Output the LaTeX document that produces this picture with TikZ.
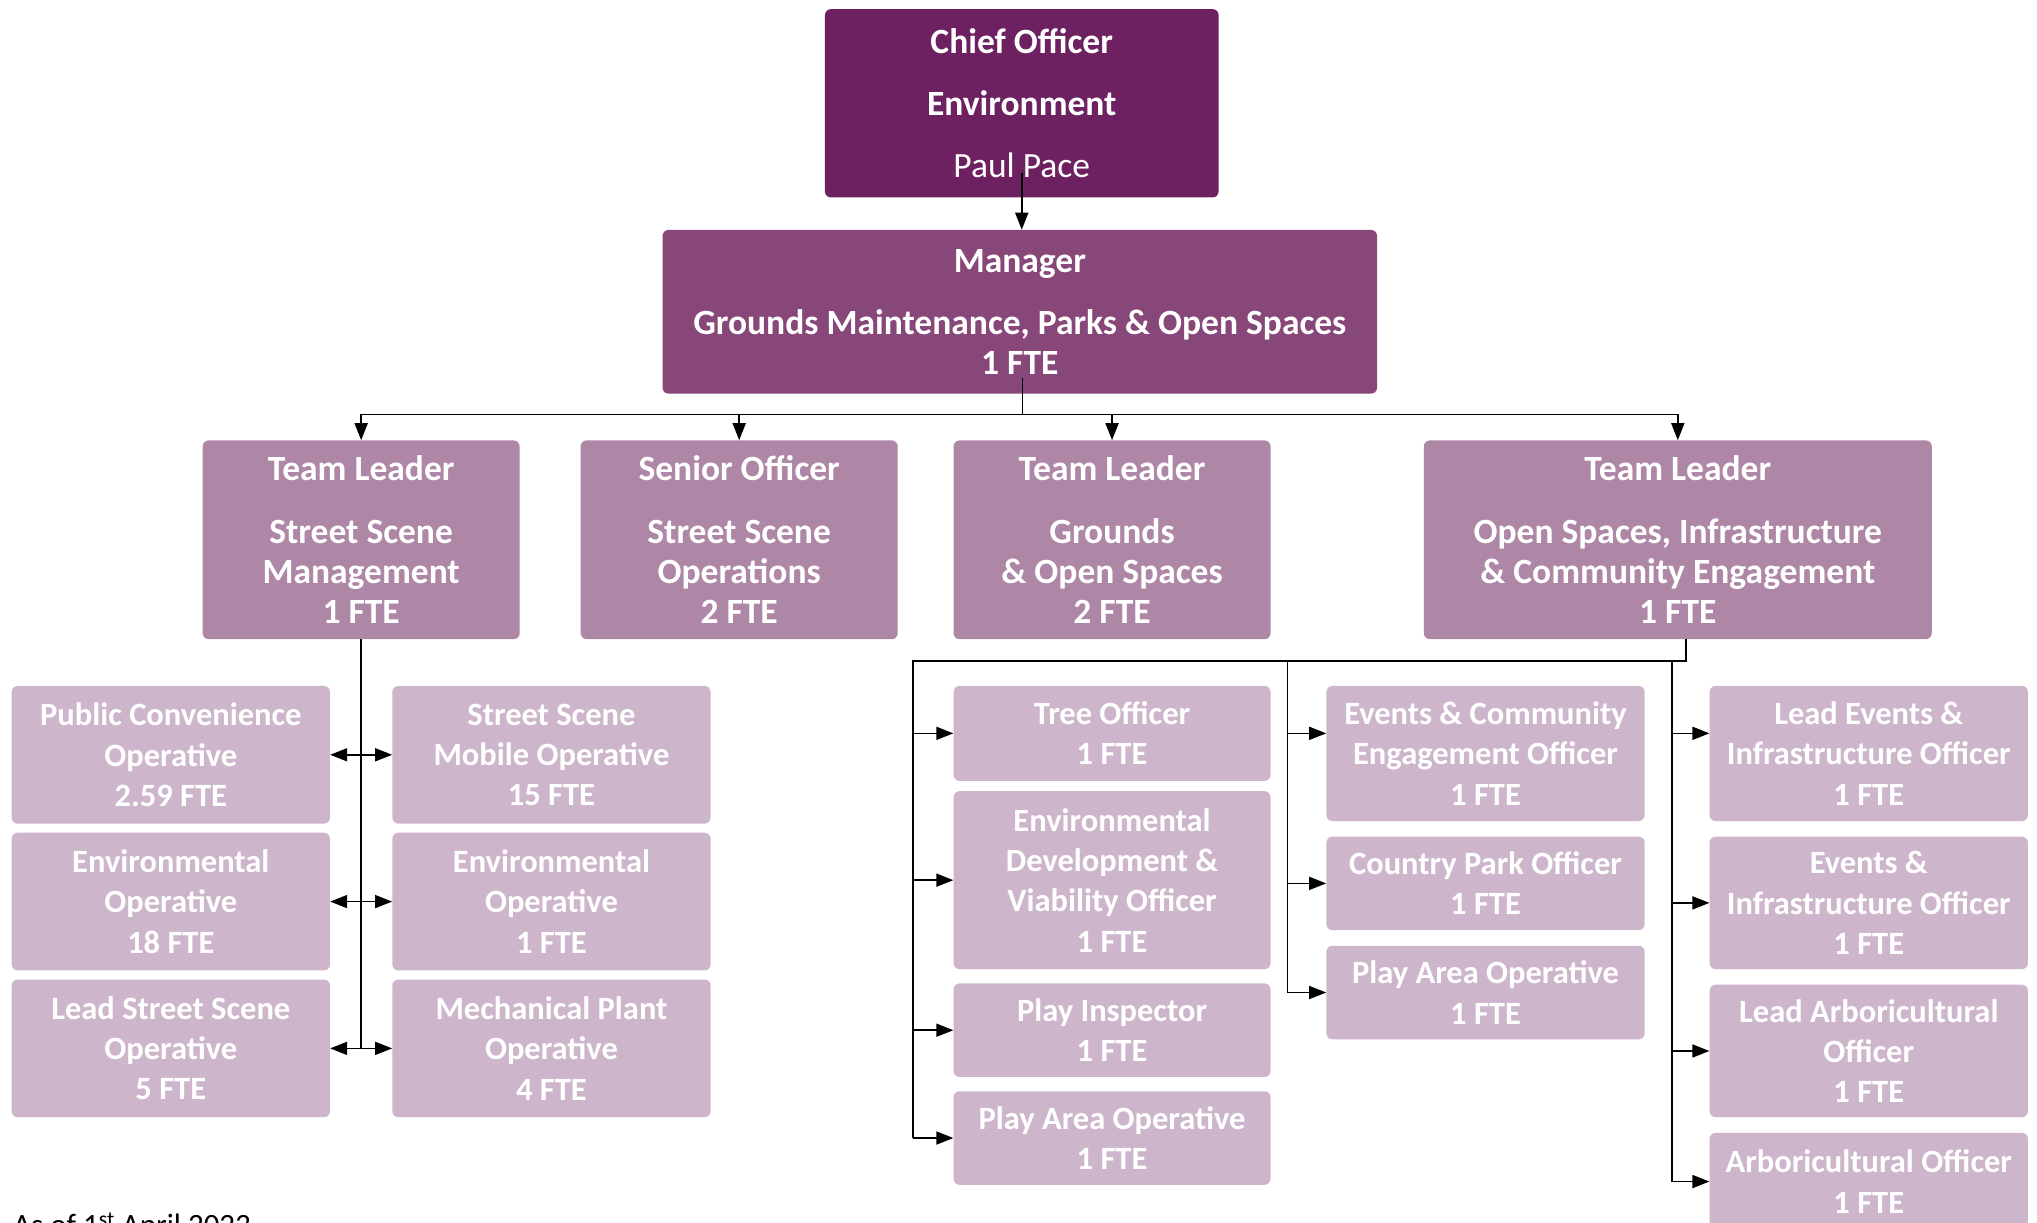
\documentclass[tikz,border=0pt]{standalone}
\usepackage{fontspec}
\setmainfont{Carlito}
\usetikzlibrary{arrows.meta}
\definecolor{chiefc}{HTML}{6D2160}
\definecolor{mgrc}{HTML}{874779}
\definecolor{leadc}{HTML}{AE87A6}
\definecolor{staffc}{HTML}{CDB6CB}
\def\pxu{1.2991pt}
\begin{document}
\begin{tikzpicture}[x=1.2991pt, y=-1.2991pt,
  box/.style={rectangle, rounded corners=6pt, text=white, align=center,
    font=\bfseries\fontsize{35.5}{40.3}\selectfont, inner sep=0pt},
  sz/.style 2 args={minimum width={#1*\pxu}, minimum height={#2*\pxu}},
  chiefbox/.style={box, fill=chiefc},
  mgrbox/.style={box, fill=mgrc},
  leadbox/.style={box, fill=leadc, sz={244}{153}},
  staffbox/.style={box, fill=staffc, font=\bfseries\fontsize{32.5}{40.3}\selectfont},
  conn/.style={draw=black, line width=1.6pt},
  arr/.style={conn, -{Triangle[length=17pt, width=13pt]}},
  dbl/.style={conn, {Triangle[length=17pt, width=13pt]}-{Triangle[length=17pt, width=13pt]}},
]
\clip (0,0) rectangle (1568,941);
\fill[white] (0,0) rectangle (1568,941);

% top of the hierarchy
\node[chiefbox, sz={303}{145}] (chief) at (786.5,79.5)
  {Chief Officer\\[22pt]Environment\\[22pt]{\mdseries Paul Pace}};
\node[mgrbox, sz={550}{126}] (mgr) at (785,240)
  {Manager\\[22pt]Grounds Maintenance, Parks \& Open Spaces\\1 FTE};

% team leaders
\node[leadbox] (tl1) at (278,415.5) {Team Leader\\[22pt]Street Scene\\Management\\1 FTE};
\node[leadbox] (so) at (569,415.5) {Senior Officer\\[22pt]Street Scene\\Operations\\2 FTE};
\node[leadbox] (tl3) at (856,415.5) {Team Leader\\[22pt]Grounds\\\& Open Spaces\\2 FTE};
\node[leadbox, sz={391}{153}] (tl4) at (1291.5,415.5)
  {Team Leader\\[22pt]Open Spaces, Infrastructure\\\& Community Engagement\\1 FTE};

% street scene staff
\node[staffbox, sz={245}{106}] (pco) at (131.5,581) {Public Convenience\\Operative\\2.59 FTE};
\node[staffbox, sz={245}{106}] (eo18) at (131.5,694) {Environmental\\Operative\\18 FTE};
\node[staffbox, sz={245}{106}] (lss) at (131.5,807) {Lead Street Scene\\Operative\\5 FTE};
\node[staffbox, sz={245}{106}] (ssm) at (424.5,581) {Street Scene\\Mobile Operative\\15 FTE};
\node[staffbox, sz={245}{106}] (eo1) at (424.5,694) {Environmental\\Operative\\1 FTE};
\node[staffbox, sz={245}{106}] (mpo) at (424.5,807) {Mechanical Plant\\Operative\\4 FTE};

% grounds and open spaces staff, first column
\node[staffbox, sz={244}{73}] (tree) at (856,564.5) {Tree Officer\\1 FTE};
\node[staffbox, sz={244}{137}] (edv) at (856,677.5) {Environmental\\Development \&\\Viability Officer\\1 FTE};
\node[staffbox, sz={244}{72}] (pin) at (856,793) {Play Inspector\\1 FTE};
\node[staffbox, sz={244}{72}] (pao1) at (856,876) {Play Area Operative\\1 FTE};

% second column
\node[staffbox, sz={245}{104}] (ece) at (1143.5,580) {Events \& Community\\Engagement Officer\\1 FTE};
\node[staffbox, sz={245}{72}] (cpo) at (1143.5,680) {Country Park Officer\\1 FTE};
\node[staffbox, sz={245}{72}] (pao2) at (1143.5,764) {Play Area Operative\\1 FTE};

% third column
\node[staffbox, sz={245}{104}] (lei) at (1438.5,580) {Lead Events \&\\Infrastructure Officer\\1 FTE};
\node[staffbox, sz={245}{102}] (ei) at (1438.5,695) {Events \&\\Infrastructure Officer\\1 FTE};
\node[staffbox, sz={245}{102}] (lao) at (1438.5,809) {Lead Arboricultural\\Officer\\1 FTE};
\node[staffbox, sz={245}{75}] (ao) at (1438.5,909.5) {Arboricultural Officer\\1 FTE};

% footnote
\node[anchor=base west, font=\fontsize{31}{36}\selectfont, inner sep=0pt] (asof) at (10,951)
  {As of 1\textsuperscript{st} April 2023};

% connectors
\coordinate (ctap) at (786.5,133);
\coordinate (mtap) at (787,291);
\coordinate (bus) at (787,319);
\draw[arr] (ctap) -- (mgr.north -| ctap);
\draw[conn] (mtap) -- (bus);
\draw[conn] (tl1.north |- bus) -- (tl4.north |- bus);
\foreach \n in {tl1,so,tl3,tl4} \draw[arr] (\n.north |- bus) -- (\n.north);

\draw[conn] (tl1.south) -- (tl1.south |- lss.east);
\draw[dbl] (pco.east) -- (ssm.west);
\draw[dbl] (eo18.east) -- (eo1.west);
\draw[dbl] (lss.east) -- (mpo.west);

\coordinate (jr) at (1298,509);
\coordinate (colA) at (703,509);
\coordinate (colB) at (991,509);
\coordinate (colC) at (1287,509);
\draw[conn] (tl4.south -| jr) -- (jr) -- (colA) -- (colA |- pao1.west);
\draw[conn] (colB) -- (colB |- pao2.west);
\draw[conn] (colC) -- (colC |- ao.west);
\foreach \n in {tree,edv,pin,pao1} \draw[arr] (colA |- \n.west) -- (\n.west);
\draw[arr] (colB |- tree.west) -- (ece.west |- tree.west);
\foreach \n in {cpo,pao2} \draw[arr] (colB |- \n.west) -- (\n.west);
\draw[arr] (colC |- tree.west) -- (lei.west |- tree.west);
\foreach \n in {ei,lao,ao} \draw[arr] (colC |- \n.west) -- (\n.west);
\end{tikzpicture}
\end{document}
